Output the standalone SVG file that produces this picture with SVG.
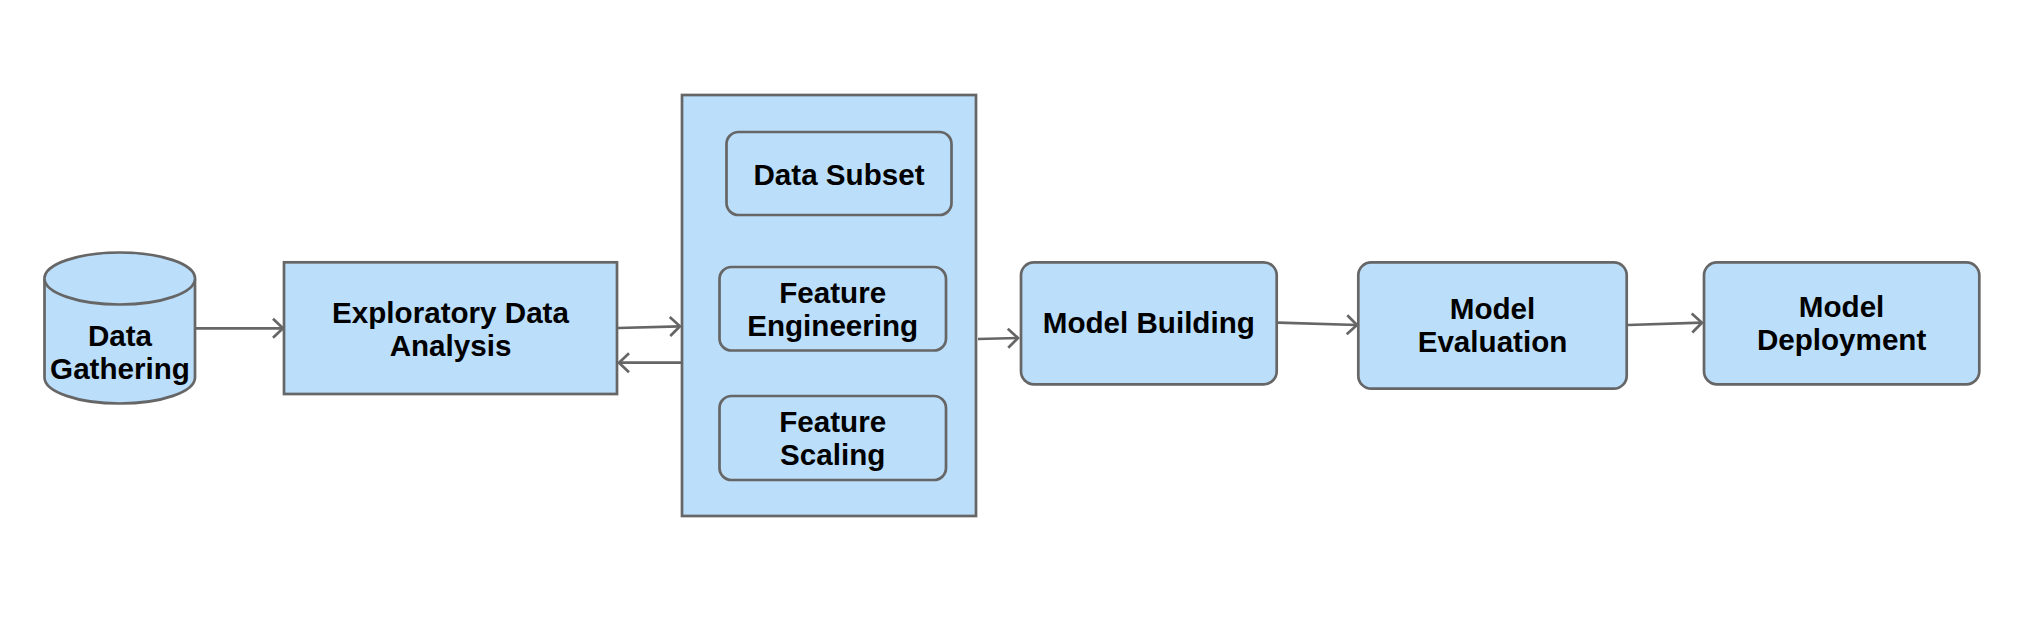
<svg xmlns="http://www.w3.org/2000/svg" width="2024" height="621" viewBox="0 0 2024 621">
<defs>
<style>
.n{fill:#bbdefb;stroke:#666666;stroke-width:2.7}
.t{font-family:"Liberation Sans",Arial,Helvetica,sans-serif;font-weight:bold;font-size:29.6px;fill:#000000;text-anchor:middle}
.c{fill:none;stroke:#666666;stroke-width:2.7}
</style>
<marker id="ah" markerUnits="userSpaceOnUse" markerWidth="24" markerHeight="24" viewBox="-14 -12 16 24" refX="0" refY="0" orient="auto">
<path d="M-10,-9.5 L0,0 L-10,9.5" fill="none" stroke="#666666" stroke-width="2.7"/>
</marker>
</defs>
<rect width="2024" height="621" fill="#ffffff"/>
<g id="connectors">
<line class="c" x1="196" y1="328.3" x2="283" y2="328.3" marker-end="url(#ah)"/>
<line class="c" x1="618" y1="328" x2="680" y2="326.3" marker-end="url(#ah)"/>
<line class="c" x1="681" y1="362.7" x2="619" y2="362.7" marker-end="url(#ah)"/>
<line class="c" x1="978" y1="339" x2="1018" y2="338" marker-end="url(#ah)"/>
<line class="c" x1="1278" y1="322.7" x2="1357" y2="325" marker-end="url(#ah)"/>
<line class="c" x1="1628" y1="325" x2="1702" y2="322.7" marker-end="url(#ah)"/>
</g>
<g id="data-gathering">
<path class="n" d="M44.5,278.5 A75.25,26 0 0 1 195,278.5 L195,377.5 A75.25,26 0 0 1 44.5,377.5 Z"/>
<path class="n" d="M44.5,278.5 A75.25,26 0 0 0 195,278.5" fill="none"/>
<text class="t" x="120" y="346">Data</text>
<text class="t" x="120" y="379.3">Gathering</text>
</g>
<g id="eda">
<rect class="n" x="284" y="262.3" width="333" height="131.7"/>
<text class="t" x="450.5" y="322.7">Exploratory Data</text>
<text class="t" x="450.5" y="355.8">Analysis</text>
</g>
<g id="preprocessing">
<rect class="n" x="682" y="95" width="294" height="421"/>
</g>
<g id="data-subset">
<rect class="n" x="726.5" y="132" width="225" height="83" rx="12" ry="12"/>
<text class="t" x="839" y="184.8">Data Subset</text>
</g>
<g id="feature-engineering">
<rect class="n" x="719.5" y="267" width="226.5" height="83.5" rx="12" ry="12"/>
<text class="t" x="832.7" y="302.7">Feature</text>
<text class="t" x="832.7" y="336">Engineering</text>
</g>
<g id="feature-scaling">
<rect class="n" x="719.5" y="396" width="226.5" height="84" rx="12" ry="12"/>
<text class="t" x="832.7" y="431.8">Feature</text>
<text class="t" x="832.7" y="465">Scaling</text>
</g>
<g id="model-building">
<rect class="n" x="1021" y="262.3" width="255.7" height="122" rx="13" ry="13"/>
<text class="t" x="1148.8" y="333">Model Building</text>
</g>
<g id="model-evaluation">
<rect class="n" x="1358.3" y="262.3" width="268.4" height="126.4" rx="13" ry="13"/>
<text class="t" x="1492.5" y="319.4">Model</text>
<text class="t" x="1492.5" y="352.2">Evaluation</text>
</g>
<g id="model-deployment">
<rect class="n" x="1704" y="262.3" width="275.3" height="122" rx="13" ry="13"/>
<text class="t" x="1841.6" y="317">Model</text>
<text class="t" x="1841.6" y="350">Deployment</text>
</g>
</svg>
